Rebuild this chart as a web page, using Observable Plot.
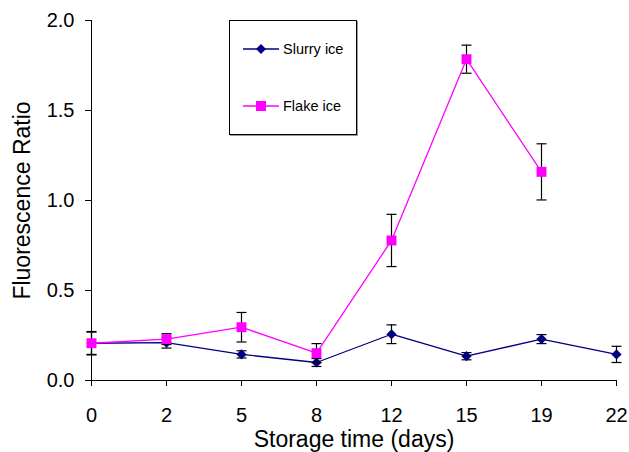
<!DOCTYPE html>
<html><head><meta charset="utf-8">
<script src="https://cdn.jsdelivr.net/npm/d3@7"></script>
<script src="https://cdn.jsdelivr.net/npm/@observablehq/plot@0.6"></script>
<style>
body{margin:0;background:#fff;font-family:"Liberation Sans",Arial,sans-serif;}
#wrap{position:relative;width:629px;height:452px;}
#legend{position:absolute;left:229px;top:20px;width:126px;height:113px;border:1px solid #000;box-shadow:1px 1px 0 #999;background:#fff;}
.item{position:absolute;left:13px;display:flex;align-items:center;font-size:14.5px;color:#000;}
.item svg{margin-right:4px;}
</style></head>
<body><div id="wrap"></div>
<script>
const days = ["0", "2", "5", "8", "12", "15", "19", "22"];
const slurry = [0.207, 0.21, 0.145, 0.10, 0.257, 0.135, 0.23, 0.145];
const slurryErr = [0.062, 0.03, 0.02, 0.022, 0.052, 0.02, 0.025, 0.045];
const flake = [0.207, 0.23, 0.296, 0.152, 0.778, 1.785, 1.159, null];
const flakeErr = [0.065, 0.03, 0.082, 0.053, 0.145, 0.078, 0.156, null];
const seriesNames = ["Slurry ice", "Flake ice"];
const seriesColors = ["#000080", "#ff00ff"];
const yTicks = [0, 0.5, 1.0, 1.5, 2.0];

function rowsOf(vals, errs) {
  return days.map((d, i) => ({day: d, v: vals[i], lo: vals[i] == null ? null : vals[i] - errs[i], hi: vals[i] == null ? null : vals[i] + errs[i]}))
    .filter(r => r.v != null);
}
const sRows = rowsOf(slurry, slurryErr);
const fRows = rowsOf(flake, flakeErr);

const cap = {draw(ctx) { ctx.moveTo(-5, 0); ctx.lineTo(5, 0); }};

function seriesMarks(rows, color, symbol, r) {
  return [
    Plot.line(rows, {x: "day", y: "v", stroke: color, strokeWidth: 1.3}),
    Plot.ruleX(rows, {x: "day", y1: "lo", y2: "hi", stroke: "#000", strokeWidth: 1.2}),
    Plot.dot(rows, {x: "day", y: "lo", symbol: cap, stroke: "#000", fill: "none", strokeWidth: 1.2}),
    Plot.dot(rows, {x: "day", y: "hi", symbol: cap, stroke: "#000", fill: "none", strokeWidth: 1.2}),
    Plot.dot(rows, {x: "day", y: "v", symbol, r, fill: color, stroke: "none"})
  ];
}

const chart = Plot.plot({
  width: 629, height: 452,
  marginLeft: 91, marginRight: 13, marginTop: 20, marginBottom: 72,
  style: {fontFamily: '"Liberation Sans", Arial, sans-serif', fontSize: "20px", background: "#fff", color: "#000"},
  x: {type: "point", domain: days, padding: 0},
  y: {domain: [0, 2]},
  marks: [
    Plot.axisY({ticks: yTicks, tickFormat: ".1f", tickSize: 6, tickPadding: 11, fontSize: 20, label: null}),
    Plot.axisY({ticks: [], tickSize: 0, fontSize: 23,
      label: "Fluorescence Ratio", labelAnchor: "center", labelArrow: "none", labelOffset: 78}),
    Plot.axisX({tickSize: 6, tickPadding: 21, fontSize: 20, label: null}),
    Plot.axisX({ticks: [], tickSize: 0, fontSize: 23, dx: 7,
      label: "Storage time (days)", labelAnchor: "center", labelArrow: "none", labelOffset: 66}),
    Plot.ruleY([0], {stroke: "#000"}),
    Plot.ruleX([days[0]], {x: d => d, y1: 0, y2: 2, stroke: "#000"}),
    ...seriesMarks(sRows, seriesColors[0], "diamond2", 4.6),
    ...seriesMarks(fRows, seriesColors[1], "square", 5.6)
  ]
});
document.getElementById("wrap").appendChild(chart);

// legend
const legend = document.createElement("div");
legend.id = "legend";
const sym = [
  '<polygon points="18,0 23,5 18,10 13,5" fill="#000080"/>',
  '<rect x="13" y="0" width="10" height="10" fill="#ff00ff"/>'
];
seriesNames.forEach((name, i) => {
  const it = document.createElement("div");
  it.className = "item";
  it.style.top = (i === 0 ? 20 : 77) + "px";
  it.innerHTML = `<svg width="36" height="10"><line x1="0" x2="36" y1="5" y2="5" stroke="${seriesColors[i]}" stroke-width="1.3"/>${sym[i]}</svg><span>${name}</span>`;
  legend.appendChild(it);
});
document.getElementById("wrap").appendChild(legend);
</script></body></html>
